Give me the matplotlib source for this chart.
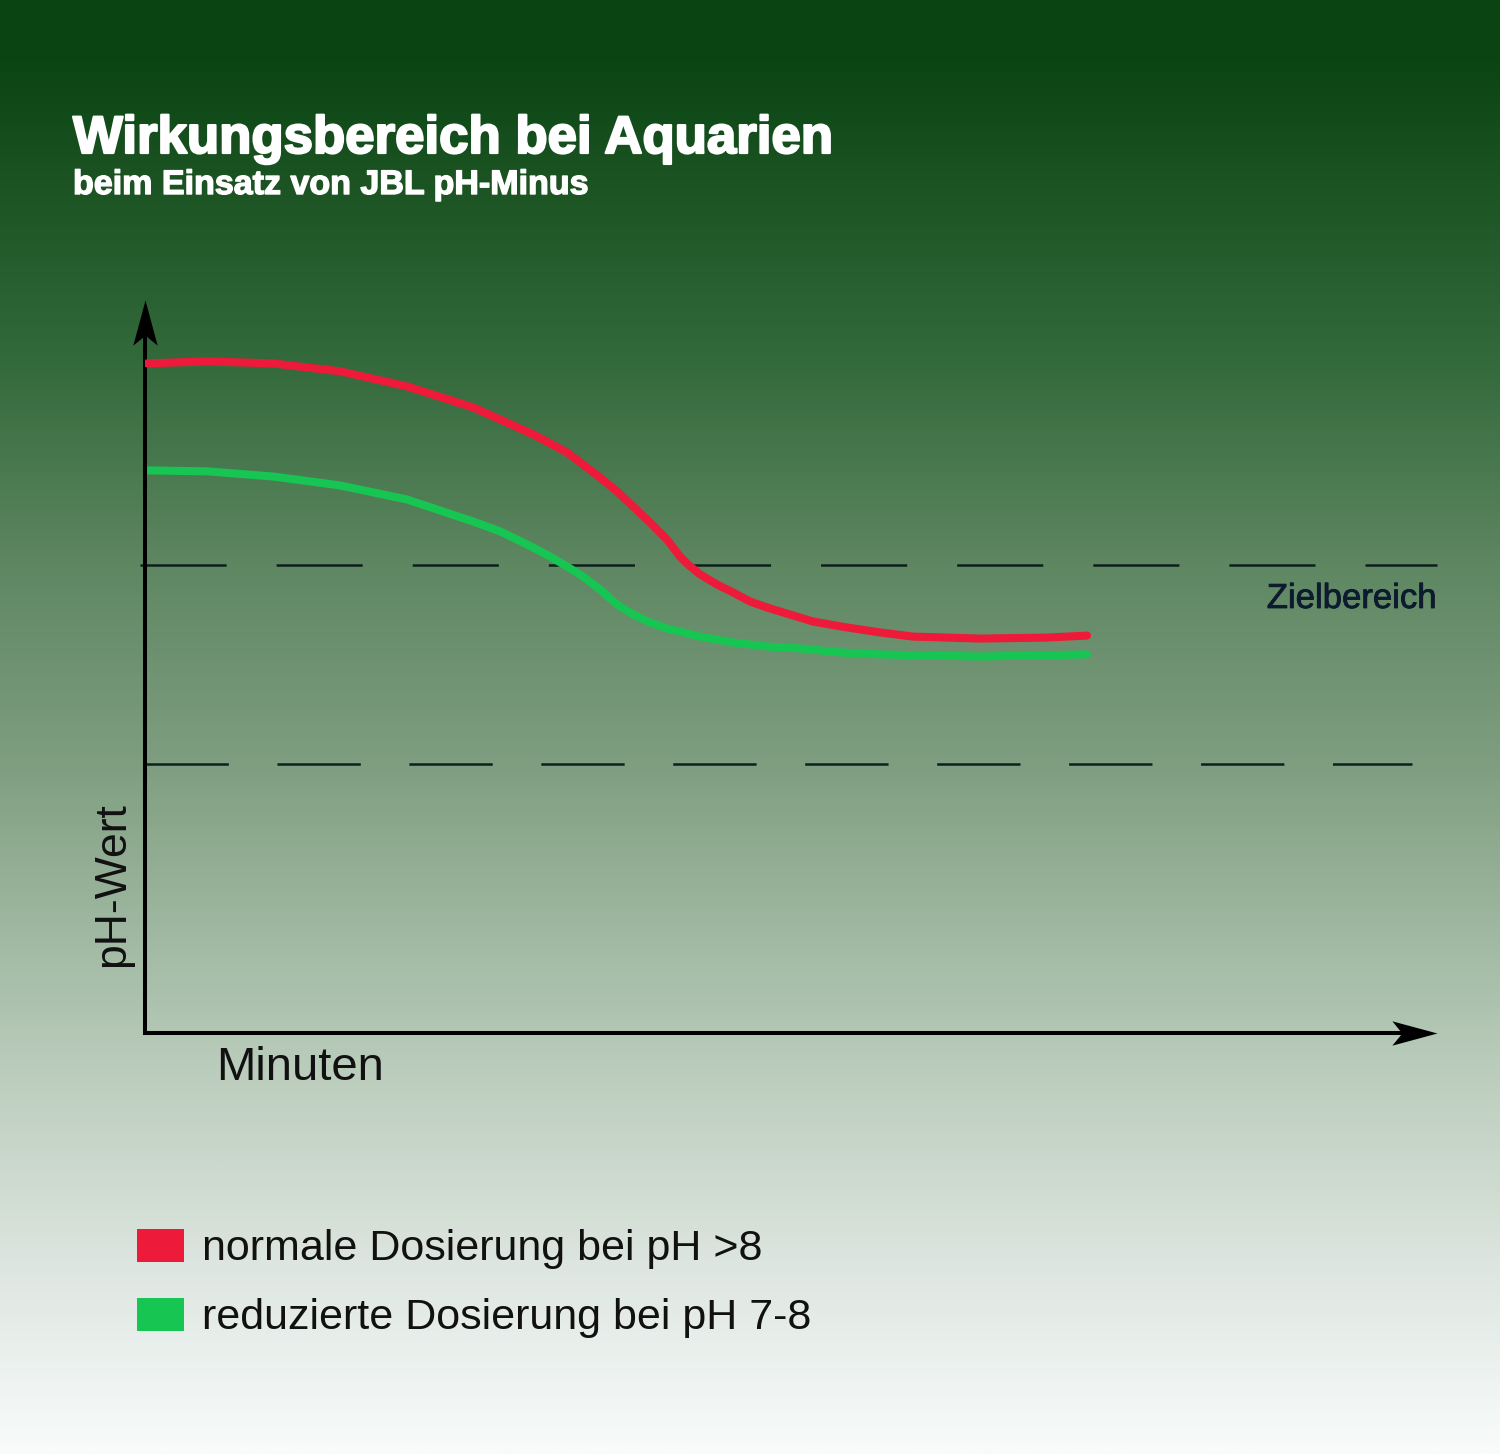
import numpy as np
import matplotlib
matplotlib.use('Agg')
import matplotlib.pyplot as plt
import matplotlib.patheffects as pe
from matplotlib.colors import LinearSegmentedColormap
from matplotlib.patches import Patch
from matplotlib.path import Path

plt.rcParams['font.family'] = ['Liberation Sans', 'DejaVu Sans']
plt.rcParams['lines.scale_dashes'] = False

# Zeitachse (Minuten, relative Skala 0-100) und pH-Werte
minuten_rot = [0.15, 4.80, 9.91, 15.09, 20.28, 25.39, 27.48, 30.03, 32.66,
               35.22, 36.53, 37.77, 39.09, 40.40, 41.41, 42.03, 42.96, 44.27,
               45.51, 46.83, 48.14, 49.38, 50.70, 51.70, 54.33, 56.89, 59.44,
               64.63, 69.81, 72.91]
ph_rot = [8.520, 8.530, 8.520, 8.480, 8.404, 8.298, 8.237, 8.162, 8.071,
          7.944, 7.874, 7.798, 7.717, 7.631, 7.545, 7.505, 7.455, 7.404,
          7.364, 7.318, 7.288, 7.263, 7.237, 7.217, 7.187, 7.162, 7.141,
          7.131, 7.136, 7.146]

minuten_gruen = [0.15, 4.80, 9.91, 15.09, 20.28, 25.39, 27.48, 28.79, 30.03,
                 31.35, 32.66, 33.90, 35.22, 36.53, 37.77, 39.09, 40.40, 42.96,
                 45.51, 48.14, 50.70, 53.79, 56.89, 64.63, 72.91]
ph_gruen = [7.980, 7.975, 7.949, 7.904, 7.833, 7.722, 7.672, 7.631, 7.591,
            7.545, 7.495, 7.444, 7.379, 7.303, 7.253, 7.212, 7.182, 7.141,
            7.111, 7.091, 7.081, 7.061, 7.051, 7.040, 7.051]

ziel_oben = 7.5
ziel_unten = 6.5
x_max = 100
y_min, y_max = 5.14, 8.84

titel = 'Wirkungsbereich bei Aquarien'
untertitel = 'beim Einsatz von JBL pH-Minus'
legende = ['normale Dosierung bei pH >8', 'reduzierte Dosierung bei pH 7-8']
farben = ['#ed1a3a', '#17c553']

W, H = 1500, 1454
fig = plt.figure(figsize=(W / 100, H / 100), dpi=100)

# Hintergrund: Verlauf dunkelgrün -> weiß
stops = [(0.00, '#0a4412'), (0.04, '#0b4513'), (0.14, '#1f5626'),
         (0.25, '#346a3c'), (0.39, '#5f8762'), (0.53, '#809f82'),
         (0.71, '#b3c7b4'), (0.80, '#cbd8cc'), (0.88, '#dfe7e2'),
         (1.00, '#f8fbfa')]
cmap = LinearSegmentedColormap.from_list('bg', stops)
bg = fig.add_axes([0, 0, 1, 1], zorder=-10)
bg.imshow(np.linspace(0, 1, 600).reshape(-1, 1), cmap=cmap, aspect='auto',
          extent=[0, 1, 0, 1])
bg.axis('off')

# Diagrammbereich
ax = fig.add_axes([145 / W, 1 - 1033 / H, 1292 / W, 733 / H])
ax.patch.set_visible(False)
ax.set_xlim(0, x_max)
ax.set_ylim(y_min, y_max)
ax.set_xticks([])
ax.set_yticks([])
for s in ['top', 'right']:
    ax.spines[s].set_visible(False)
for s in ['left', 'bottom']:
    ax.spines[s].set_linewidth(2.9)
    ax.spines[s].set_color('black')
ax.spines['left'].set_bounds(y_min, y_max - 0.1)
ax.spines['bottom'].set_bounds(0, x_max - 1.5)

# Pfeilspitzen
pfeil_x = Path([(0, 0), (-1, 0.27), (-0.78, 0), (-1, -0.27), (0, 0)],
               [Path.MOVETO, Path.LINETO, Path.LINETO, Path.LINETO, Path.CLOSEPOLY])
pfeil_y = Path([(0, 0), (-0.27, -1), (0, -0.78), (0.27, -1), (0, 0)],
               [Path.MOVETO, Path.LINETO, Path.LINETO, Path.LINETO, Path.CLOSEPOLY])
ax.plot([1], [0], transform=ax.transAxes, marker=pfeil_x, ms=65, color='black',
        mew=0, linestyle='none', clip_on=False)
ax.plot([0], [1], transform=ax.transAxes, marker=pfeil_y, ms=65, color='black',
        mew=0, linestyle='none', clip_on=False)

# Zielbereich-Linien
ax.axhline(ziel_oben, xmin=-0.004, xmax=1.0, color='#0d1f1f', lw=1.8,
           linestyle=(0, (62, 36)), clip_on=False, zorder=1)
ax.axhline(ziel_unten, xmin=0.0, xmax=0.981, color='#0d1f1f', lw=1.8,
           linestyle=(0, (60, 35)), clip_on=False, zorder=1)

# Kurven
ax.plot(minuten_rot, ph_rot, color=farben[0], lw=5.8, solid_capstyle='round',
        solid_joinstyle='round', zorder=3)
ax.plot(minuten_gruen, ph_gruen, color=farben[1], lw=5.8, solid_capstyle='round',
        solid_joinstyle='round', zorder=2)

# Texte
fig.text(73 / W, 1 - 153 / H, titel, fontweight='bold', fontsize=38,
         color='white', va='baseline',
         path_effects=[pe.withStroke(linewidth=1.6, foreground='white')])
fig.text(73 / W, 1 - 194 / H, untertitel, fontweight='bold', fontsize=24.5,
         color='white', va='baseline',
         path_effects=[pe.withStroke(linewidth=1.0, foreground='white')])
fig.text(1437 / W, 1 - 608 / H, 'Zielbereich', fontsize=25, color='#0d1b2e',
         ha='right', va='baseline',
         path_effects=[pe.withStroke(linewidth=0.6, foreground='#0d1b2e')])
fig.text(216 / W, 1 - 1080 / H, 'Minuten', fontsize=34, color='#111111',
         va='baseline')
fig.text(133 / W, 1 - 885 / H, 'pH-Wert', fontsize=32, color='#111111',
         rotation=90, ha='right', va='center')

# Legende
handles = [Patch(facecolor=c, edgecolor='none') for c in farben]
fig.legend(handles, legende, loc='upper left',
           bbox_to_anchor=(98 / W, 1 - 1190 / H), frameon=False,
           fontsize=31, handlelength=1.09, handleheight=0.81,
           handletextpad=0.42, labelspacing=0.66, labelcolor='#111111')

fig.savefig('out.png', dpi=100)
